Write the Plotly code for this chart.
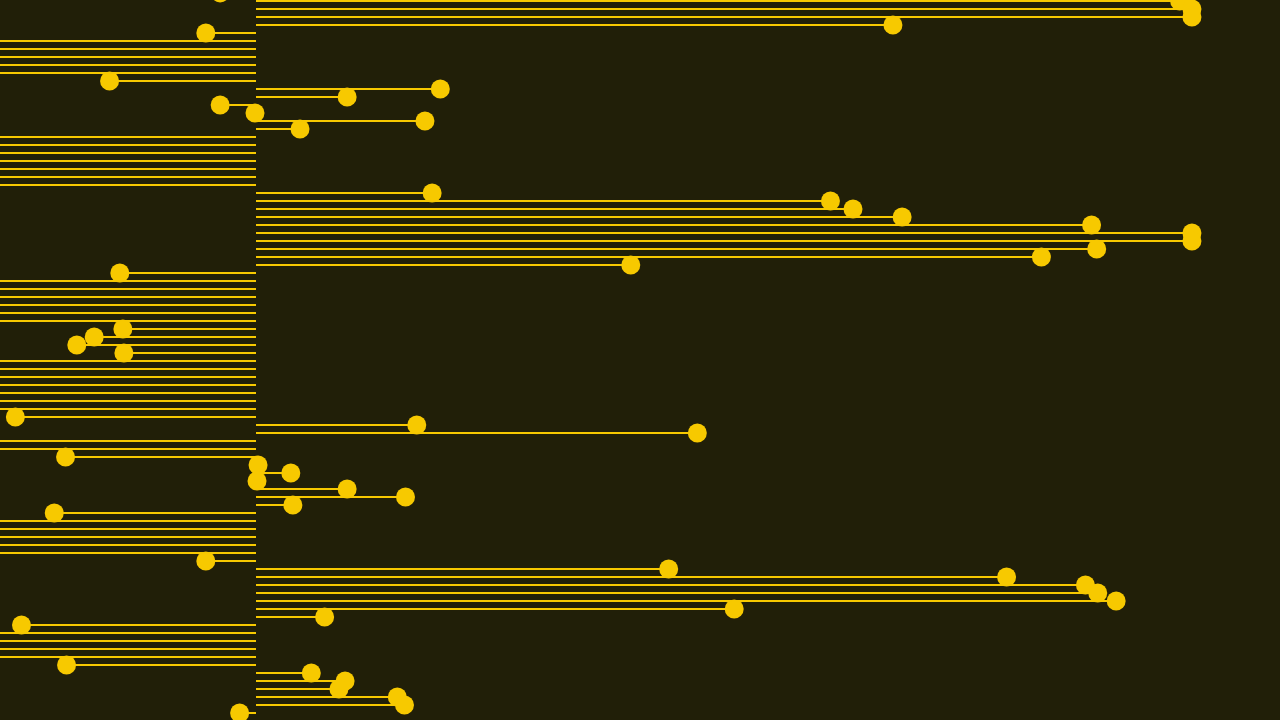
import plotly.graph_objects as go

# Row labels (top to bottom) and their values; baseline at 0
rows = [f"Item {i+1}" for i in range(91)]
values = [
    -3.5, 90.2, 91.4, 91.4, 62.2, -4.9,
    -34.0, -41.0, -29.5, -37.0, -31.0,
    -14.3, 18.0, 8.9, -3.5, -0.1, 16.5, 4.3,
    -33.0, -44.0, -30.0, -39.0, -36.0, -28.0, -42.0,
    17.2, 56.1, 58.3, 63.1, 81.6, 91.4, 91.4, 82.1, 76.7, 36.6,
    -13.3,
    -35.0, -30.5, -46.0, -32.0, -38.0, -29.0,
    -13.0, -15.8, -17.5, -12.9,
    -40.0, -33.5, -27.5, -36.5, -31.5, -43.0, -29.5,
    -23.5, 15.7, 43.1,
    -37.5, -30.0,
    -18.6, 0.2, 3.4, 0.1, 8.9, 14.6, 3.6, -19.7,
    -35.5, -28.5, -41.5, -32.5, -39.5,
    -4.9, 40.3, 73.3, 81.0, 82.2, 84.0, 46.7, 6.7, -22.9,
    -30.5, -37.0, -44.5, -33.0,
    -18.5, 5.4, 8.7, 8.1, 13.8, 14.5, -1.6,
]

BG = "#211f08"
GOLD = "#f7c900"

lx, ly = [], []
for r, v in zip(rows, values):
    lx += [0, v, None]
    ly += [r, r, None]

fig = go.Figure()
fig.add_trace(go.Scatter(x=lx, y=ly, mode="lines",
                         line=dict(color=GOLD, width=2),
                         hoverinfo="skip", showlegend=False))
fig.add_trace(go.Scatter(x=values, y=rows, mode="markers",
                         marker=dict(color=GOLD, size=19, line=dict(width=0)),
                         showlegend=False))

fig.update_layout(
    width=1280, height=720,
    margin=dict(l=0, r=0, t=0, b=0),
    paper_bgcolor=BG, plot_bgcolor=BG,
    xaxis=dict(range=[-25, 100], visible=False, showgrid=False, zeroline=False),
    yaxis=dict(type="category", categoryorder="array", categoryarray=rows,
               range=[90.875, 0.875], visible=False, showgrid=False, zeroline=False),
)

fig.write_html(
    "out.html",
    config={"displayModeBar": False},
    post_script="document.body.style.margin='0';document.body.style.background='%s';" % BG,
)
